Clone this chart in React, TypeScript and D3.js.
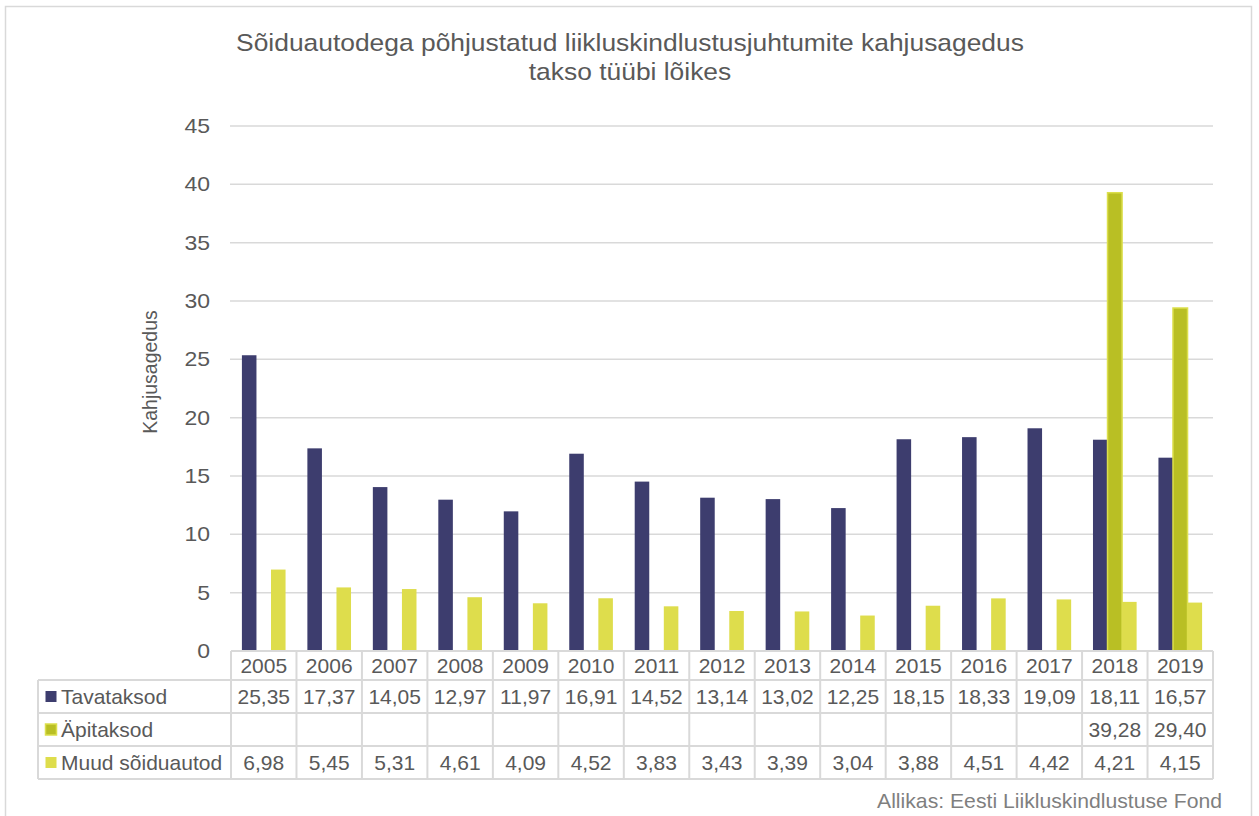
import React, { useEffect, useRef } from 'react'
import * as d3 from 'd3'

const years = ['2005', '2006', '2007', '2008', '2009', '2010', '2011', '2012', '2013', '2014', '2015', '2016', '2017', '2018', '2019']
const tavataksod = [25.35, 17.37, 14.05, 12.97, 11.97, 16.91, 14.52, 13.14, 13.02, 12.25, 18.15, 18.33, 19.09, 18.11, 16.57]
const apitaksod: (number | null)[] = [null, null, null, null, null, null, null, null, null, null, null, null, null, 39.28, 29.4]
const muud = [6.98, 5.45, 5.31, 4.61, 4.09, 4.52, 3.83, 3.43, 3.39, 3.04, 3.88, 4.51, 4.42, 4.21, 4.15]
const yTicks = [0, 5, 10, 15, 20, 25, 30, 35, 40, 45]

const series = [
  { name: 'Tavataksod', values: tavataksod, color: '#3d3d6e', stroke: 'none' },
  { name: 'Äpitaksod', values: apitaksod, color: '#b9bf24', stroke: '#dcdf4c' },
  { name: 'Muud sõiduautod', values: muud, color: '#dedd4c', stroke: 'none' },
]

const W = 1259
const H = 816
const FONT = '"Liberation Sans", Arial, sans-serif'
const TEXT = '#595959'
const GRID = '#d9d9d9'

type Sel = d3.Selection<any, unknown, null, undefined>

// text with a slight horizontal stretch, like the original export
const txt = (p: Sel, x: number, y: number, s: string, size: number, sx: number, anchor = 'start', fill = TEXT) =>
  p
    .append('text')
    .attr('transform', `translate(${x},${y}) scale(${sx},1)`)
    .attr('text-anchor', anchor)
    .attr('font-family', FONT)
    .attr('font-size', size)
    .attr('fill', fill)
    .text(s)

const App = () => {
  const svg = useRef<SVGSVGElement>(null)

  useEffect(() => {
    const s = d3.select(svg.current) as unknown as Sel
    s.selectAll('*').remove()

    const left = 231
    const right = 1213
    const top = 126
    const bottom = 651

    const x0 = d3.scaleBand().domain(years).range([left, right]).paddingInner(0).paddingOuter(0)
    const x1 = d3
      .scaleBand()
      .domain(series.map(d => d.name))
      .range([0, x0.bandwidth()])
      .paddingInner(0)
      .paddingOuter(0.75)
    const y = d3.scaleLinear().domain([0, 45]).range([bottom, top])

    // outer frame
    s.append('rect')
      .attr('x', 5.5)
      .attr('y', 6.5)
      .attr('width', 1246)
      .attr('height', 830)
      .attr('fill', '#fff')
      .attr('stroke', GRID)
      .attr('stroke-width', 1.5)

    // title
    txt(s, 630, 51, 'Sõiduautodega põhjustatud liikluskindlustusjuhtumite kahjusagedus', 24, 1.1, 'middle')
    txt(s, 630, 80, 'takso tüübi lõikes', 24, 1.1, 'middle')

    // grid + y ticks
    s.selectAll('.grid')
      .data(yTicks.filter(t => t > 0))
      .enter()
      .append('line')
      .attr('x1', left - 1)
      .attr('x2', right)
      .attr('y1', d => y(d))
      .attr('y2', d => y(d))
      .attr('stroke', GRID)
      .attr('stroke-width', 1.5)

    yTicks.forEach(t => txt(s, 210, y(t) + 7, String(t), 20, 1.15, 'end'))

    s.append('text')
      .attr('transform', `translate(157, 372) rotate(-90)`)
      .attr('text-anchor', 'middle')
      .attr('font-family', FONT)
      .attr('font-size', 19.5)
      .attr('fill', TEXT)
      .text('Kahjusagedus')

    // bars
    series.forEach(ser => {
      s.append('g')
        .selectAll('rect')
        .data(years.map((yr, i) => ({ yr, v: ser.values[i] })).filter(d => d.v != null))
        .enter()
        .append('rect')
        .attr('x', d => x0(d.yr)! + x1(ser.name)!)
        .attr('y', d => y(d.v as number))
        .attr('width', x1.bandwidth())
        .attr('height', d => bottom - y(d.v as number))
        .attr('fill', ser.color)
        .attr('stroke', ser.stroke)
        .attr('stroke-width', 1.5)
    })

    // data table
    const rowTops = [651, 680, 713, 746, 779]
    const legendLeft = 38
    const g = s.append('g')

    g.append('line').attr('x1', left).attr('x2', right).attr('y1', rowTops[0]).attr('y2', rowTops[0])
    rowTops.slice(1).forEach(yy => {
      g.append('line').attr('x1', legendLeft).attr('x2', right).attr('y1', yy).attr('y2', yy)
    })
    g.append('line').attr('x1', legendLeft).attr('x2', legendLeft).attr('y1', rowTops[1]).attr('y2', rowTops[4])
    years.forEach(yr => {
      g.append('line').attr('x1', x0(yr)!).attr('x2', x0(yr)!).attr('y1', rowTops[0]).attr('y2', rowTops[4])
    })
    g.append('line').attr('x1', right).attr('x2', right).attr('y1', rowTops[0]).attr('y2', rowTops[4])
    g.selectAll('line').attr('stroke', GRID).attr('stroke-width', 2)

    const fmt = (v: number) => v.toFixed(2).replace('.', ',')
    const mid = (yr: string) => x0(yr)! + x0.bandwidth() / 2

    years.forEach(yr => txt(g, mid(yr), (rowTops[0] + rowTops[1]) / 2 + 7, yr, 20, 1.05, 'middle'))

    series.forEach((ser, r) => {
      const cy = (rowTops[r + 1] + rowTops[r + 2]) / 2
      g.append('rect')
        .attr('x', 45.5)
        .attr('y', cy - 5.5)
        .attr('width', 11)
        .attr('height', 11)
        .attr('fill', ser.color)
        .attr('stroke', ser.stroke)
        .attr('stroke-width', 1.5)
      txt(g, 61, cy + 7, ser.name, 20, 1.05)
      years.forEach((yr, i) => {
        const v = ser.values[i]
        if (v != null) txt(g, mid(yr), cy + 7, fmt(v), 20, 1.05, 'middle')
      })
    })

    // source
    txt(s, 1222, 808, 'Allikas: Eesti Liikluskindlustuse Fond', 20, 1.06, 'end', '#7f7f7f')
  }, [])

  return (
    <div style={{ position: 'absolute', left: 0, top: 0 }}>
      <svg ref={svg} width={W} height={H} style={{ display: 'block' }}></svg>
    </div>
  )
}

export default App
